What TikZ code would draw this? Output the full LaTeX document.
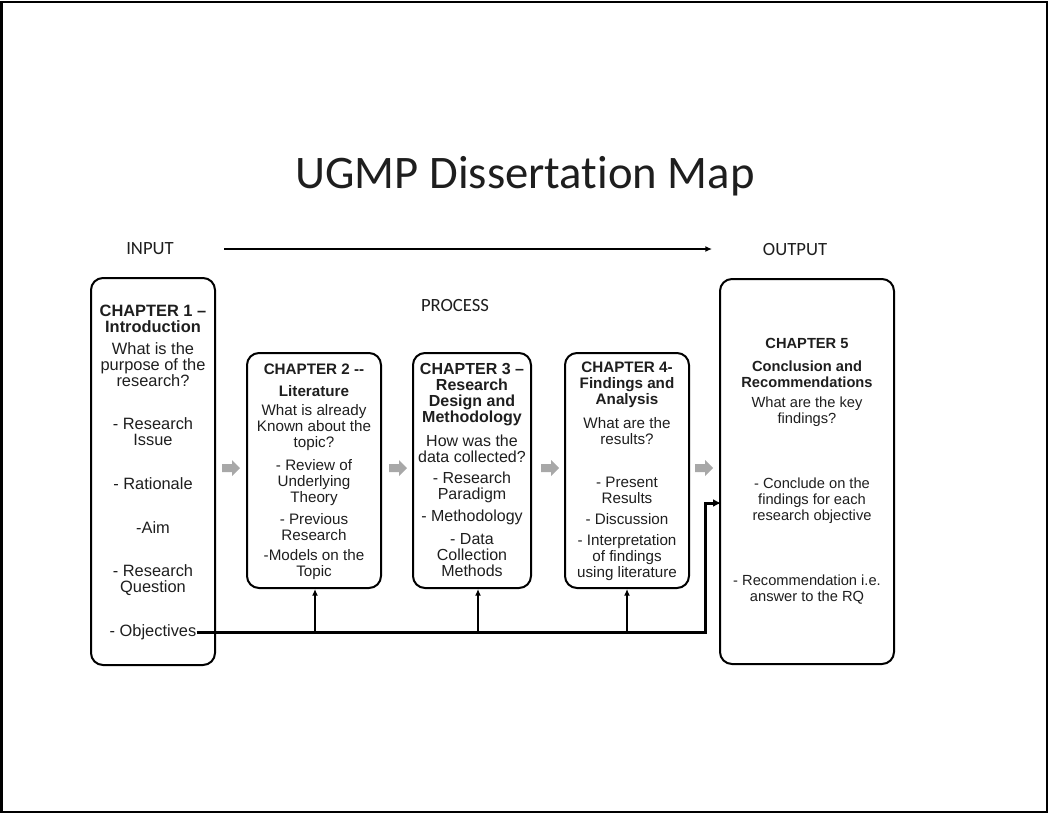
\documentclass[tikz,border=0pt]{standalone}
\usepackage{fontspec}
\setmainfont{Liberation Sans}
\newfontfamily\calibri[Ligatures=NoCommon]{Carlito}
\usetikzlibrary{arrows.meta}
\definecolor{textcol}{HTML}{1E1E1E}
\definecolor{arrowgray}{HTML}{A8A8A8}

\begin{document}
\begin{tikzpicture}[x=0.75pt,y=-0.75pt,
    chbox/.style={draw=black,line width=1.5pt,rounded corners=9pt,inner sep=0pt},
    txt/.style={font=\fontsize{#1}{12}\selectfont,align=center,inner sep=0pt,text=textcol},
    hd/.style={font=\fontsize{#1}{12}\selectfont\bfseries,align=center,inner sep=0pt,text=textcol},
    slidetxt/.style={font=\calibri\fontsize{#1}{#1}\selectfont,inner sep=0pt,text=textcol},
    objline/.style={line width=2.25pt,-{Latex[length=6pt,width=6pt]}},
    upline/.style={line width=1.5pt,-{Latex[length=5pt,width=4.5pt]}}]
      \useasboundingbox (0,0) rectangle (1048,814) ;
      \draw[line width=1.5pt] (1.5,1.5) rectangle (1046.5,812) ;
      % title and flow
      \node[slidetxt=35] (title) at (525,176) {UGMP Dissertation Map} ;
      \node[slidetxt=14] (input) at (150,249) {INPUT} ;
      \node[slidetxt=14] (output) at (795,250) {OUTPUT} ;
      \node[slidetxt=14] (process) at (455,306) {PROCESS} ;
      \coordinate (flowstart) at (224,249) ;
      \coordinate (flowend) at (712,249) ;
      \draw[line width=1.1pt,-{Latex[length=5pt,width=4.5pt]}] (flowstart) -- (flowend) ;
      % chapter boxes
      \node[chbox,minimum width=93pt,minimum height=290.25pt] (ch1) at (153,471.5) {} ;
      \node[chbox,minimum width=100.5pt,minimum height=176.25pt] (ch2) at (314,470.5) {} ;
      \node[chbox,minimum width=88.5pt,minimum height=176.25pt] (ch3) at (472,470.5) {} ;
      \node[chbox,minimum width=93pt,minimum height=176.25pt] (ch4) at (627,470.5) {} ;
      \node[chbox,minimum width=130.5pt,minimum height=288.75pt] (ch5) at (807,471.5) {} ;
      % chapter 1
      \node[hd=12.3] (c1h) at (153,318.5) {CHAPTER 1 --\\Introduction} ;
      \node[txt=12.3] (c1q) at (153,365) {What is the\\purpose of the\\research?} ;
      \node[txt=12.3] (c1a) at (153,432) {- Research\\Issue} ;
      \node[txt=12.3] (c1b) at (153,484) {- Rationale} ;
      \node[txt=12.3] (c1c) at (153,528) {-Aim} ;
      \node[txt=12.3] (c1d) at (153,580) {- Research\\Question} ;
      \node[txt=12.3] (obj) at (153,632) {- Objectives} ;
      % chapter 2
      \node[hd=11.4] (c2h) at (314,369) {CHAPTER 2 -{}-} ;
      \node[hd=11.4] (c2t) at (314,391) {Literature} ;
      \node[txt=11.4] (c2q) at (314,428) {What is already\\Known about the\\topic?} ;
      \node[txt=11.4] (c2a) at (314,483) {- Review of\\Underlying\\Theory} ;
      \node[txt=11.4] (c2b) at (314,527) {- Previous\\Research} ;
      \node[txt=11.4] (c2c) at (314,565) {-Models on the\\Topic} ;
      % chapter 3
      \node[hd=12] (c3h) at (472,395) {CHAPTER 3 --\\Research\\Design and\\Methodology} ;
      \node[txt=12] (c3q) at (472,449) {How was the\\data collected?} ;
      \node[txt=12] (c3a) at (472,487) {- Research\\Paradigm} ;
      \node[txt=12] (c3b) at (472,517) {- Methodology} ;
      \node[txt=12] (c3c) at (472,555) {- Data\\Collection\\Methods} ;
      % chapter 4
      \node[hd=11.4] (c4h) at (627,385) {CHAPTER 4-\\Findings and\\Analysis} ;
      \node[txt=11.4] (c4q) at (627,431) {What are the\\results?} ;
      \node[txt=11.4] (c4a) at (627,490) {- Present\\Results} ;
      \node[txt=11.4] (c4b) at (627,519) {- Discussion} ;
      \node[txt=11.4] (c4c) at (627,558) {- Interpretation\\of findings\\using literature} ;
      % chapter 5
      \node[hd=11] (c5h) at (807,343) {CHAPTER 5} ;
      \node[hd=11] (c5t) at (807,374) {Conclusion and\\Recommendations} ;
      \node[txt=11] (c5q) at (807,412) {What are the key\\findings?} ;
      \node[txt=11] (concl) at (812,501) {- Conclude on the\\findings for each\\research objective} ;
      \node[txt=11] (c5b) at (807,590) {- Recommendation i.e.\\answer to the RQ} ;
      % gray arrows between chapters
      \foreach \x in {231,398,550,704}
        \fill[arrowgray] (\x-9,464) -- (\x+1,464) -- (\x+1,460) -- (\x+9,468)
          -- (\x+1,476) -- (\x+1,472) -- (\x-9,472) -- cycle ;
      % objectives line
      \coordinate (turn) at (705,503) ;
      \coordinate (j2) at (315,631) ;
      \coordinate (j3) at (478,631) ;
      \coordinate (j4) at (627,631) ;
      \draw[upline] (j2) -- (j2 |- ch2.south) ;
      \draw[upline] (j3) -- (j3 |- ch3.south) ;
      \draw[upline] (j4) -- (j4 |- ch4.south) ;
      \draw[objline] (obj.east) -| (turn) -- ([xshift=1.5pt]ch5.west |- turn) ;
\end{tikzpicture}
\end{document}
